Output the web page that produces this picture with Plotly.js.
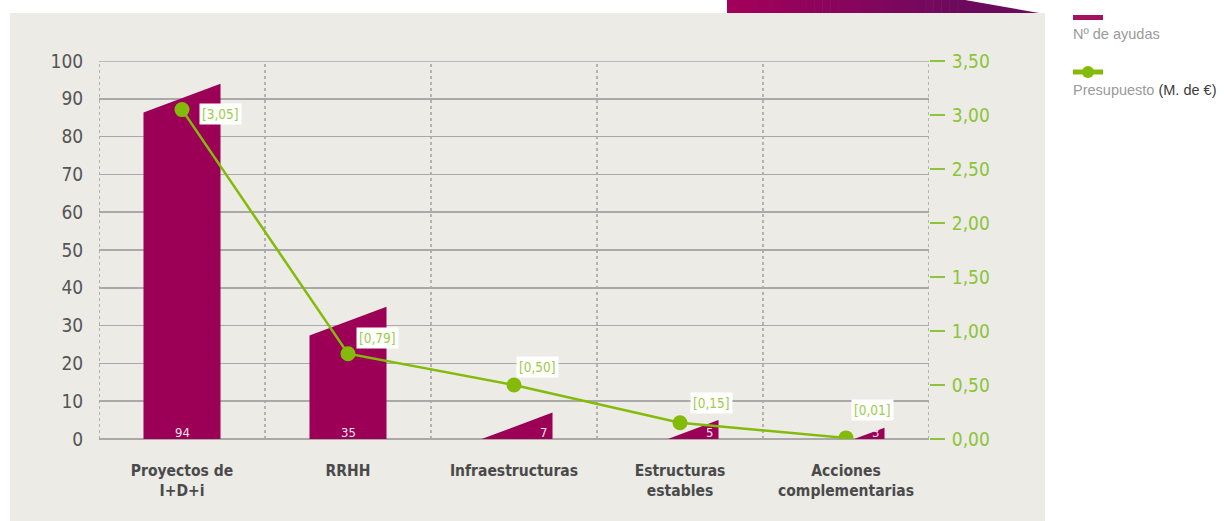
<!DOCTYPE html>
<html><head><meta charset="utf-8">
<script src="https://cdn.plot.ly/plotly-3.0.1.min.js"></script>
<style>body{margin:0;background:#fff}#c{width:1224px;height:521px}</style>
</head><body><div id="c"></div>
<script>
// ---- data ----
var categories = ["Proyectos de<br>I+D+i", "RRHH", "Infraestructuras", "Estructuras<br>estables", "Acciones<br>complementarias"];
var ayudas = [94, 35, 7, 5, 3];
var presupuesto = [3.05, 0.79, 0.50, 0.15, 0.01];
var presupuestoLabels = ["[3,05]", "[0,79]", "[0,50]", "[0,15]", "[0,01]"];
var leftTicks = [0,10,20,30,40,50,60,70,80,90,100];
var rightTicks = [0,0.5,1,1.5,2,2.5,3,3.5];

// ---- style ----
var MAG = "#9b0056", GREEN = "#84bb0a", LGREEN = "#9ccb4a", RGREEN = "#8cc43a";
var COND = "DejaVu Sans Condensed, Roboto, sans-serif";
var W = 0.464, DROP = 7.6;
var L = 99, R = 929, T = 61, B = 439;
function px(x){ return (x - L) / (R - L); }
function py(y){ return (B - y) / (B - T); }

var bx = [], by = [];
ayudas.forEach(function(v, i){
  var xl = i - W/2, xr = i + W/2;
  if (v > DROP) {
    bx.push(xl, xr, xr, xl, xl, null); by.push(0, 0, v, v - DROP, 0, null);
  } else {
    var xs = xr - W * v / DROP;
    bx.push(xs, xr, xr, xs, null); by.push(0, 0, v, 0, null);
  }
});

var traces = [
  {type:"scatter", mode:"lines", x:bx, y:by, fill:"toself", fillcolor:MAG,
   line:{width:0, color:MAG}, hoverinfo:"skip", showlegend:false, xaxis:"x", yaxis:"y"},
  {type:"scatter", mode:"lines+markers", x:categories.map(function(c,i){return i;}), y:presupuesto,
   line:{color:GREEN, width:2.5}, marker:{color:GREEN, size:15}, showlegend:false, xaxis:"x", yaxis:"y2"}
];

var shapes = [];
shapes.push({type:"rect", xref:"paper", yref:"paper", x0:px(10), x1:px(1045), y0:py(521), y1:py(13),
  fillcolor:"#ecebe6", line:{width:0}, layer:"below"});
var N = 30, gx0 = 727, gx1 = 965;
function mix(a, b, t){ return Math.round(a + (b - a) * t); }
for (var k = 0; k < N; k++) {
  var t = k / (N - 1);
  var col = "rgb(" + mix(163,108,t) + "," + mix(0,10,t) + "," + mix(90,94,t) + ")";
  var a = gx0 + (gx1 - gx0) * k / N, b = gx0 + (gx1 - gx0) * (k + 1) / N + 0.6;
  shapes.push({type:"rect", xref:"paper", yref:"paper", x0:px(a), x1:px(b), y0:py(13), y1:py(0),
    fillcolor:col, line:{width:0}, layer:"below"});
}
shapes.push({type:"path", xref:"paper", yref:"paper",
  path:"M"+px(gx1-0.5)+","+py(0)+" L"+px(gx1)+","+py(0)+" L"+px(1039)+","+py(13)+" L"+px(gx1-0.5)+","+py(13)+" Z",
  fillcolor:"rgb(108,10,94)", line:{width:0}, layer:"below"});
shapes.push({type:"line", xref:"paper", yref:"y", x0:0, x1:1, y0:100, y1:100,
  line:{color:"#a9a9a9", width:1.5}, layer:"below"});
for (var j = 0; j <= categories.length; j++) {
  shapes.push({type:"line", xref:"x", yref:"paper", x0:j - 0.5, x1:j - 0.5, y0:0, y1:1,
    line:{color:"#a0a0a0", width:1.5, dash:"dot"}, layer:"between"});
}
shapes.push({type:"line", xref:"paper", yref:"paper", x0:px(1073), x1:px(1103), y0:py(17.5), y1:py(17.5),
  line:{color:"#a3135f", width:5}});
shapes.push({type:"line", xref:"paper", yref:"paper", x0:px(1073), x1:px(1103), y0:py(72), y1:py(72),
  line:{color:GREEN, width:5}});
shapes.push({type:"circle", xref:"paper", yref:"paper", x0:px(1082), x1:px(1094), y0:py(78), y1:py(66),
  fillcolor:GREEN, line:{width:0}});

var annotations = [];
ayudas.forEach(function(v, i){
  var full = v > DROP;
  annotations.push({x: full ? i : i + W/2, y:0, xref:"x", yref:"y", text:String(v), showarrow:false,
    xanchor: full ? "center" : "right", yanchor:"bottom", xshift: full ? 0 : -4, yshift:-3,
    font:{family:COND, size:13, color:"#f3e6ee"}});
});
var offs = [[17,-4],[8,16],[2,18],[10,20],[5,28]];
presupuesto.forEach(function(v, i){
  annotations.push({x:i, y:v, xref:"x", yref:"y2", text:presupuestoLabels[i], showarrow:false,
    xanchor:"left", yanchor:"middle", xshift:offs[i][0], yshift:offs[i][1],
    bgcolor:"#ffffff", borderpad:2,
    font:{family:COND, size:13.5, color:LGREEN}});
});
annotations.push({xref:"paper", yref:"paper", x:px(1071), y:py(34), xanchor:"left", yanchor:"middle",
  showarrow:false, text:"Nº de ayudas", font:{family:"Liberation Sans", size:14.5, color:"#9a9a9a"}});
annotations.push({xref:"paper", yref:"paper", x:px(1071), y:py(90), xanchor:"left", yanchor:"middle",
  showarrow:false, text:"Presupuesto <span style='color:#3c3c3c'>(M. de €)</span>",
  font:{family:"Liberation Sans", size:14.5, color:"#9a9a9a"}});

var layout = {
  width:1224, height:521, autosize:false,
  margin:{l:L, r:1224 - R, t:T, b:521 - B, pad:0},
  paper_bgcolor:"#ffffff", plot_bgcolor:"rgba(0,0,0,0)",
  separators:",.",
  showlegend:false,
  xaxis:{range:[-0.5, 4.5], tickvals:[0,1,2,3,4], ticktext:categories, showgrid:false, zeroline:false,
    showline:false, ticks:"outside", ticklen:17, tickcolor:"rgba(0,0,0,0)",
    tickfont:{family:COND, size:15.5, color:"#4a4a4a", weight:700}, fixedrange:true},
  yaxis:{range:[0, 100], tickvals:leftTicks, showgrid:true, gridcolor:"#a9a9a9", gridwidth:1.5,
    zeroline:true, zerolinecolor:"#a9a9a9", zerolinewidth:1.5, showline:false,
    ticks:"outside", ticklen:11, tickcolor:"rgba(0,0,0,0)",
    tickfont:{family:COND, size:19, color:"#555555"}, fixedrange:true},
  yaxis2:{range:[0, 3.5], tickvals:rightTicks, tickformat:".2f", overlaying:"y", side:"right",
    showgrid:false, zeroline:false, showline:false, ticks:"outside", ticklen:15, tickwidth:2, tickcolor:RGREEN,
    ticklabelstandoff:3,
    tickfont:{family:COND, size:19, color:RGREEN}, fixedrange:true},
  shapes:shapes, annotations:annotations
};
Plotly.newPlot("c", traces, layout, {displayModeBar:false, staticPlot:true});
</script></body></html>
